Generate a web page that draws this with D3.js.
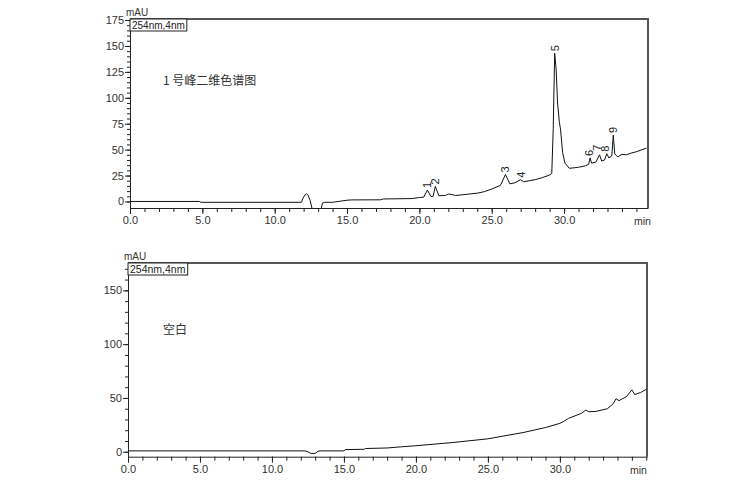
<!DOCTYPE html>
<html><head><meta charset="utf-8">
<script src="https://cdn.jsdelivr.net/npm/d3@7"></script>
<style>
body{margin:0;background:#fff;}
svg{display:block;}
.tick text{font-family:"Liberation Sans",Arial,sans-serif;fill:#333;}
</style></head>
<body>
<svg id="c" width="756" height="484"></svg>
<script>
// ---- data ----
const topTime  = [0,4.8,4.9,11.85,11.95,12.1,12.2,12.3,12.45,12.6,13.2,13.3,13.45,14.0,14.5,15.0,15.3,17.3,17.5,19.5,20.0,20.3,20.55,20.8,20.95,21.1,21.35,21.8,22.0,22.3,22.5,23.0,24.0,24.5,25.0,25.6,25.95,26.25,26.6,27.0,27.2,27.6,28.0,28.5,29.0,29.15,29.25,29.35,29.45,29.55,29.67,29.76,29.9,30.06,30.36,30.7,31.0,31.5,31.7,31.8,31.9,32.2,32.45,32.6,32.8,32.95,33.1,33.3,33.4,33.5,33.7,34.0,34.3,34.6,35.0,35.7];
const topValue = [0,0,-0.8,-0.8,3,6.5,7.5,6,1,-8,-8,-1.5,-0.8,-0.8,0.2,1.2,1.5,1.6,2.4,2.8,3.8,4.2,11,4.8,5,14.5,5.5,5.8,7.2,6.5,5.8,6.5,8,9.5,12,15.5,26,17,18,21,19,20,21,23,25.5,27,70,143,128,95,77,69,47,37,32,32.5,33,34.5,36,42,37,38,45,39,40,46,42,44,64,46,43,45.5,45,46.5,48,51.5];
const peakLabels = ["1","2","3","4","5","6","7","8","9"];
const peakTimes  = [20.5,21.1,25.95,27.0,29.35,31.75,32.3,32.85,33.4];
const peakValues = [11,14.5,26,21,143,42,47,46,64];

const blankTime  = [0,12.3,12.5,12.7,13.0,13.2,13.4,15.0,15.1,16.4,16.5,18.0,19.0,20.0,22.5,25.0,27.5,29.0,30.0,30.3,30.6,31.5,31.8,32.0,32.5,33.3,33.7,33.9,34.1,34.6,35.0,35.2,35.6,36.0];
const blankValue = [0.8,0.8,0,-1.5,-1.5,0.5,0.8,0.8,2,2.3,3,3.5,4.6,5.6,8.5,12,18,22.5,26.4,28.5,31,35.7,38.7,37.2,37.5,40,44.6,49.3,47.5,51,57.5,53.2,55,58];

const xMajorTicks = [0,5,10,15,20,25,30];
const topYTicks   = [0,25,50,75,100,125,150,175];
const blankYTicks = [0,50,100,150];

const svg = d3.select("#c");

function panel(cfg){
  const g = svg.append("g");
  const x = d3.scaleLinear().domain(cfg.xDomain).range([cfg.left, cfg.right]);
  const y = d3.scaleLinear().domain(cfg.yDomain).range([cfg.bottom, cfg.top]);
  const id = "clip"+cfg.name;
  svg.append("clipPath").attr("id",id).append("rect")
     .attr("x",cfg.left).attr("y",cfg.top).attr("width",cfg.right-cfg.left).attr("height",cfg.bottom-cfg.top);

  // frame top/right
  g.append("path").attr("d",`M${cfg.left},${cfg.top}H${cfg.right}V${cfg.bottom}`)
   .attr("fill","none").attr("stroke","#555").attr("stroke-width",2);

  // x axis minor
  const xa = g.append("g").attr("transform",`translate(0,${cfg.bottom})`);
  xa.call(d3.axisBottom(x).tickValues(d3.range(0,Math.floor(cfg.xDomain[1])+1,1)).tickSize(4).tickFormat(""))
    .call(s=>s.select(".domain").remove());
  const xb = g.append("g").attr("transform",`translate(0,${cfg.bottom})`);
  xb.call(d3.axisBottom(x).tickValues(xMajorTicks).tickSize(6).tickFormat(d3.format(".1f")).tickSizeOuter(0));
  xb.selectAll("text").attr("font-size",11).attr("dy","0.95em").attr("y",6);
  xb.select(".domain").attr("stroke","#222");
  g.selectAll(".tick line").attr("stroke","#222");
  g.append("text").attr("x",cfg.minX).attr("y",cfg.bottom+17).text("min")
   .attr("font-family","Liberation Sans, Arial, sans-serif").attr("font-size",10.5).attr("fill","#333");

  // y axis
  const ya = g.append("g").attr("transform",`translate(${cfg.left},0)`);
  ya.call(d3.axisLeft(y).tickValues(d3.range(0,cfg.yDomain[1],cfg.yMinor)).tickSize(3).tickFormat(""))
    .call(s=>s.select(".domain").remove());
  const yb = g.append("g").attr("transform",`translate(${cfg.left},0)`);
  yb.call(d3.axisLeft(y).tickValues(cfg.yTicks).tickSize(5).tickPadding(1).tickFormat(d3.format("d")).tickSizeOuter(0));
  yb.selectAll("text").attr("font-size",11);
  yb.select(".domain").attr("stroke","#222");
  g.selectAll(".tick line").attr("stroke","#222");
  g.append("text").attr("x",cfg.left-4).attr("y",cfg.top-3).text("mAU")
   .attr("font-family","Liberation Sans, Arial, sans-serif").attr("font-size",10).attr("fill","#333");

  // wavelength box
  const bt = g.append("text").attr("x",cfg.left+2).attr("y",cfg.top+10).text("254nm,4nm")
   .attr("font-family","Liberation Sans, Arial, sans-serif").attr("font-size",cfg.boxFont).attr("fill","#222");
  const bb = bt.node().getBBox();
  g.insert("rect",()=>bt.node()).attr("x",cfg.left).attr("y",cfg.top).attr("width",bb.width+4).attr("height",12)
   .attr("fill","#fff").attr("stroke","#222").attr("stroke-width",1);

  // title
  g.append("text").attr("x",cfg.titleX).attr("y",cfg.titleY).text(cfg.title)
   .attr("font-family","Noto Sans CJK SC, sans-serif").attr("font-size",12).attr("fill","#333");

  // signal
  const line = d3.line().x((d,i)=>x(cfg.t[i])).y((d,i)=>y(cfg.v[i]));
  g.append("path").datum(cfg.t).attr("d",line).attr("clip-path",`url(#${id})`)
   .attr("fill","none").attr("stroke","#111").attr("stroke-width",1);

  if(cfg.labels){
    cfg.labels.forEach((lab,i)=>{
      const px = x(cfg.lt[i]), py = y(cfg.lv[i]) - 2;
      g.append("text").attr("transform",`translate(${px+4},${py}) rotate(-90)`).text(lab)
       .attr("font-family","Liberation Sans, Arial, sans-serif").attr("font-size",11).attr("fill","#222");
    });
  }
  return {x,y};
}

panel({name:"a", xDomain:[0,35.8], left:130, right:648, yDomain:[-6.3,176], top:19, bottom:208,
       yTicks:topYTicks, yMinor:5, t:topTime, v:topValue, minX:634,
       title:"1 号峰二维色谱图", titleX:163, titleY:85, boxFont:10,
       labels:peakLabels, lt:peakTimes, lv:peakValues});
panel({name:"b", xDomain:[0,36.05], left:128, right:647, yDomain:[-4.6,175.4], top:263, bottom:456.7,
       yTicks:blankYTicks, yMinor:10, t:blankTime, v:blankValue, minX:630,
       title:"空白", titleX:163, titleY:334, boxFont:10.5});
</script>
</body></html>
